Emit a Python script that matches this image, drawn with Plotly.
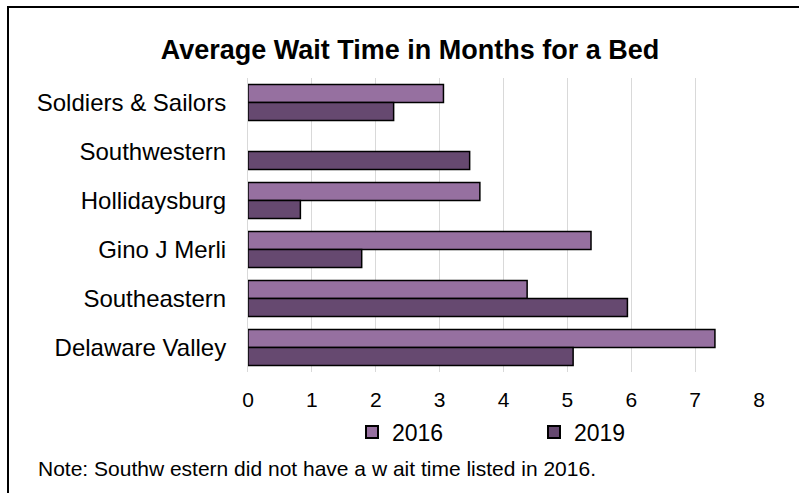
import plotly.graph_objects as go

categories = ["Soldiers & Sailors", "Southwestern", "Hollidaysburg", "Gino J Merli", "Southeastern", "Delaware Valley"]
values_2016 = [3.06, None, 3.63, 5.37, 4.37, 7.31]
values_2019 = [2.28, 3.47, 0.82, 1.78, 5.94, 5.09]
x_ticks = [0, 1, 2, 3, 4, 5, 6, 7, 8]

W, H = 799, 493
L, R, T, B = 248, 40, 78, 121
pw, ph = W - L - R, H - T - B

def px(x):
    return (x - L) / pw

def py(y):
    return (H - B - y) / ph

font = "Liberation Sans, Arial, sans-serif"

fig = go.Figure()
fig.add_trace(go.Bar(name="2016", y=categories, x=values_2016, orientation="h",
                     marker=dict(color="#9670A0", line=dict(color="#000000", width=1.5))))
fig.add_trace(go.Bar(name="2019", y=categories, x=values_2019, orientation="h",
                     marker=dict(color="#664970", line=dict(color="#000000", width=1.5))))

fig.update_layout(
    width=W, height=H,
    margin=dict(l=L, r=R, t=T, b=B),
    paper_bgcolor="white", plot_bgcolor="white",
    barmode="group", bargap=0.265, bargroupgap=0,
    font=dict(family=font, size=16, color="#000000"),
    title=dict(text="<b>Average Wait Time in Months for a Bed</b>", x=410 / W, xanchor="center",
               y=1 - 50 / H, yanchor="middle", font=dict(size=27, family=font)),
    xaxis=dict(range=[0, 8], tickvals=x_ticks, showgrid=True, gridcolor="#D9D9D9", gridwidth=1,
               zeroline=False, showline=False, ticks="", ticklabelstandoff=13,
               tickfont=dict(size=21)),
    yaxis=dict(autorange="reversed", showline=True, linecolor="#D9D9D9", linewidth=1,
               ticks="", ticklabelstandoff=16, tickfont=dict(size=24)),
    legend=dict(orientation="h", x=px(352), y=py(432), xanchor="left", yanchor="middle",
                font=dict(size=23), entrywidth=137, entrywidthmode="pixels",
                itemsizing="constant", bgcolor="rgba(0,0,0,0)"),
    showlegend=True,
)

fig.add_annotation(text="Note: Southw estern did not have a w ait time listed in 2016.",
                   xref="paper", yref="paper", x=px(36), y=py(468), xanchor="left", yanchor="middle",
                   showarrow=False, font=dict(size=21, family=font))

fig.add_shape(type="rect", xref="paper", yref="paper",
              x0=px(8), x1=px(812), y0=py(7), y1=py(510),
              line=dict(color="#000000", width=2), fillcolor="rgba(0,0,0,0)", layer="above")

fig.write_html("out.html", config={"displayModeBar": False},
               post_script="document.body.style.margin='0';document.body.style.padding='0';")
